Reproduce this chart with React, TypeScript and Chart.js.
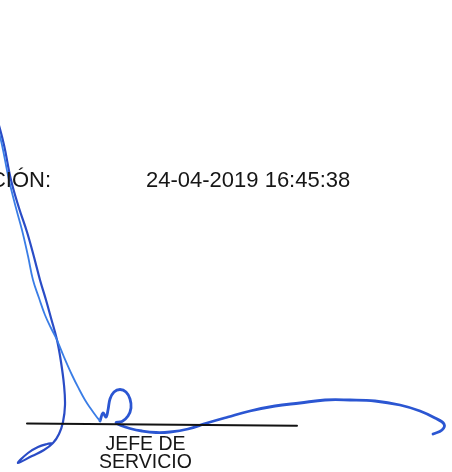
import React, { useEffect, useRef } from "react";
import Chart from "chart.js/auto";

// Text content
const headerLabel = "CIÓN:";
const dateText = "24-04-2019 16:45:38";
const roleLines = ["JEFE DE", "SERVICIO"];

// Signature line (rule) under which the role is printed
const ruleX = [27, 297];
const ruleY = [423.5, 425.8];

// Signature stroke 1 (dark, from top-left down into the leaf loop)
const darkX = [-3, 4, 11, 19, 27, 34, 40, 46, 51, 57, 61, 64, 65, 63, 59, 53, 44, 32, 18, 28, 38, 47, 53];
const darkY = [118, 145, 180, 208, 232, 257, 280, 300, 318, 340, 362, 385, 405, 422, 434, 443, 450, 456, 463, 453, 447, 444, 443];

// Signature stroke 2 (light, from top-left down to the small hook)
const lightX = [-4, 2, 9, 16, 22, 28, 33, 39, 45, 51, 57, 64, 72, 79, 85, 91, 96, 100];
const lightY = [120, 145, 180, 208, 230, 256, 280, 298, 315, 328, 340, 357, 375, 389, 400, 409, 416, 421];

// Signature stroke 3 (hook, loop and long sweep to the right)
const sweepX = [100, 103, 106, 108, 110, 114, 120, 126, 130, 131, 128, 122, 116, 121, 130, 142, 156, 170, 188, 207, 228, 250, 275, 300, 325, 350, 375, 400, 420, 435, 444, 442, 433];
const sweepY = [421, 413, 417, 410, 399, 392, 389.5, 392, 399, 408, 416, 421.5, 422.5, 425.5, 428.5, 431, 432.5, 432, 429, 423, 417, 411, 406, 403, 400, 400, 401, 405, 411, 418, 424, 430, 434];

const toPoints = (xs: number[], ys: number[]) => xs.map((x, i) => ({ x, y: ys[i] }));

const FONT = '"Liberation Sans", Arial, Helvetica, sans-serif';

export default function App() {
  const canvasRef = useRef<HTMLCanvasElement | null>(null);

  useEffect(() => {
    document.body.style.margin = "0";
    const canvas = canvasRef.current;
    if (!canvas) return;
    const chart = new Chart(canvas, {
      type: "scatter",
      data: {
        datasets: [
          {
            data: toPoints(ruleX, ruleY),
            showLine: true,
            borderColor: "#121212",
            borderWidth: 2,
            tension: 0,
            pointRadius: 0,
          },
          {
            data: toPoints(lightX, lightY),
            showLine: true,
            borderColor: "#3a7de6",
            borderWidth: 1.8,
            tension: 0.4,
            pointRadius: 0,
          },
          {
            data: toPoints(darkX, darkY),
            showLine: true,
            borderColor: "#2a4cc6",
            borderWidth: 2.2,
            tension: 0.4,
            pointRadius: 0,
          },
          {
            data: toPoints(sweepX, sweepY),
            showLine: true,
            borderColor: "#2b56d2",
            borderWidth: 2.8,
            tension: 0.4,
            pointRadius: 0,
          },
        ],
      },
      options: {
        responsive: false,
        animation: false,
        events: [],
        layout: { padding: 0 },
        plugins: { legend: { display: false }, tooltip: { enabled: false } },
        elements: {
          point: { radius: 0 },
          line: { capBezierPoints: false, borderCapStyle: "round", borderJoinStyle: "round" },
        },
        scales: {
          x: { type: "linear", min: 0, max: 452, display: false },
          y: { type: "linear", min: 0, max: 472, reverse: true, display: false },
        },
      },
    });
    return () => chart.destroy();
  }, []);

  const textBase: React.CSSProperties = {
    position: "absolute",
    whiteSpace: "nowrap",
    fontFamily: FONT,
    color: "#161616",
  };

  return (
    <div
      style={{
        position: "absolute",
        left: 0,
        top: 0,
        width: 452,
        height: 472,
        background: "#ffffff",
        overflow: "hidden",
      }}
    >
      <canvas ref={canvasRef} width={452} height={472} style={{ display: "block", position: "absolute", left: 0, top: 0 }} />
      <div style={{ ...textBase, right: 401, top: 169, fontSize: 22, lineHeight: "22px", textAlign: "right" }}>
        {headerLabel}
      </div>
      <div style={{ ...textBase, left: 146, top: 169, fontSize: 22, lineHeight: "22px" }}>{dateText}</div>
      <div
        style={{
          ...textBase,
          left: 45.5,
          width: 200,
          top: 434.2,
          fontSize: 19.5,
          lineHeight: "18px",
          textAlign: "center",
        }}
      >
        {roleLines.map((l) => (
          <div key={l}>{l}</div>
        ))}
      </div>
    </div>
  );
}
